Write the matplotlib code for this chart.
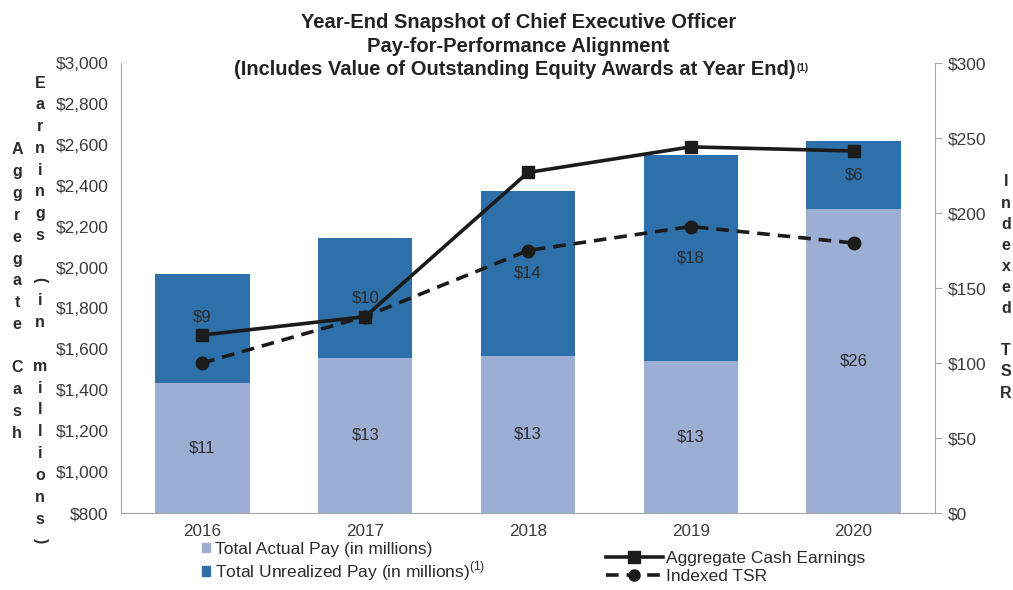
import matplotlib.pyplot as plt
import numpy as np
from matplotlib.lines import Line2D
from matplotlib.patches import Patch

plt.rcParams['font.family'] = ['Liberation Sans', 'DejaVu Sans']

years = ['2016', '2017', '2018', '2019', '2020']
# bar tops ($ millions scale of the chart)
actual_top = [1436, 1558, 1568, 1543, 2286]
total_top = [1968, 2144, 2374, 2550, 2619]
actual_lbl = ['$11', '$13', '$13', '$13', '$26']
unreal_lbl = ['$9', '$10', '$14', '$18', '$6']
cash_earn = [1670, 1760, 2465, 2590, 2570]   # left axis
tsr = [100, 131, 175, 191, 180]              # right axis

c_light = '#9caed3'
c_dark = '#2e70a9'
c_line = '#1b1b1b'
c_txt = '#3c3c3c'
c_spine = '#a6a6a6'
base = 800

fig = plt.figure(figsize=(10.13, 5.9), dpi=100)
ax = fig.add_axes([0.1194, 0.1305, 0.923 - 0.1194, 0.8932 - 0.1305])
ax2 = ax.twinx()
ax.set_zorder(ax2.get_zorder() + 1)
ax.patch.set_visible(False)

ax.set_xlim(-0.5, 4.5)
ax.set_ylim(800, 3000)
ax2.set_ylim(0, 300)

x = np.arange(len(years))
w = 0.58
a = np.array(actual_top) - base
u = np.array(total_top) - np.array(actual_top)
ax.bar(x, a, w, bottom=base, color=c_light, zorder=2)
ax.bar(x, u, w, bottom=actual_top, color=c_dark, zorder=2)
nudge = [8, 0, 0, 0, 0]  # points, keeps first label clear of the marker
for i in range(len(years)):
    ax.text(x[i], base + a[i] / 2, actual_lbl[i], ha='center', va='center', fontsize=12, color='#2b2b2b', zorder=3)
    ax.annotate(unreal_lbl[i], (x[i], actual_top[i] + u[i] / 2), xytext=(0, nudge[i]), textcoords='offset points',
                ha='center', va='center', fontsize=12, color='#2b2b2b', zorder=3)

ax.plot(x, cash_earn, '-', color=c_line, lw=2.6, marker='s', ms=9, zorder=5)
# TSR belongs to the right axis; drawn in ax so it sits above the bars
ax.plot(x, tsr, '--', color=c_line, lw=2.6, marker='o', ms=9, dashes=(3.5, 2.2), zorder=4,
        transform=ax2.transData)

ax.set_yticks(np.arange(800, 3001, 200))
ax.set_yticklabels(['${:,}'.format(v) for v in range(800, 3001, 200)])
ax2.set_yticks(np.arange(0, 301, 50))
ax2.set_yticklabels(['${}'.format(v) for v in range(0, 301, 50)])
ax.set_xticks(x)
ax.set_xticklabels(years)

for s in ['top']:
    ax.spines[s].set_visible(False)
    ax2.spines[s].set_visible(False)
for s in ['left', 'bottom', 'right']:
    ax.spines[s].set_color(c_spine)
    ax2.spines[s].set_color(c_spine)
ax.spines['right'].set_visible(False)
ax2.spines['left'].set_visible(False)
ax2.spines['bottom'].set_visible(False)
ax.tick_params(axis='y', length=0, labelsize=12.5, labelcolor=c_txt, pad=9)
ax.tick_params(axis='x', length=0, labelsize=12.3, labelcolor=c_txt, pad=8)
ax2.tick_params(axis='y', length=5, color=c_spine, labelsize=12.5, labelcolor=c_txt, pad=4)

fig.text(0.512, 0.962, 'Year-End Snapshot of Chief Executive Officer', ha='center', va='center',
         fontsize=14.5, fontweight='bold', color='#222222')
fig.text(0.512, 0.922, 'Pay-for-Performance Alignment', ha='center', va='center',
         fontsize=14.5, fontweight='bold', color='#222222')
t3 = fig.text(0.508, 0.882, '(Includes Value of Outstanding Equity Awards at Year End)',
              ha='center', va='center', fontsize=14.5, fontweight='bold', color='#222222')
fig.canvas.draw()
bb = t3.get_window_extent()
fig.text((bb.x1 + 1) / fig.bbox.width, (bb.y1 - 3) / fig.bbox.height, '(1)', ha='left', va='top',
         fontsize=7, fontweight='bold', color='#222222')

# stacked-letter axis titles
def stack(s, xpix, ypix0, step=21.8, fs=11.5):
    for k, ch in enumerate(s):
        if ch == ' ':
            continue
        rot = 0
        if ch == '(' or ch == ')':
            rot = -90
        fig.text(xpix / 1013, 1 - (ypix0 + k * step) / 590, ch, ha='center', va='center',
                 fontsize=fs, fontweight='bold', color='#2b2b2b', rotation=rot)

stack('Aggregate Cash', 17, 150)
stack('Earnings (in millions)', 40, 83)
stack('Indexed TSR', 1006, 182, step=21.1)

leg1 = fig.legend(handles=[Patch(color=c_light, label='Total Actual Pay (in millions)'),
                           Patch(color=c_dark, label='Total Unrealized Pay (in millions)$^{\\mathregular{(1)}}$')],
                  loc='upper left', bbox_to_anchor=(0.199, 0.082), frameon=False, fontsize=12.5,
                  handlelength=0.5, handleheight=0.5, handletextpad=0.25, labelspacing=0.15,
                  borderaxespad=0, borderpad=0, labelcolor='#2b2b2b')
leg2 = fig.legend(handles=[Line2D([], [], color=c_line, lw=2.6, marker='s', ms=8, label='Aggregate Cash Earnings'),
                           Line2D([], [], color=c_line, lw=2.6, ls='--', dashes=(3.5, 2.2), marker='o', ms=8,
                                  label='Indexed TSR')],
                  loc='upper left', bbox_to_anchor=(0.598, 0.066), frameon=False, fontsize=12.5,
                  handlelength=3.3, handletextpad=0.15, labelspacing=0.15, numpoints=1,
                  borderaxespad=0, borderpad=0, labelcolor='#2b2b2b')

fig.savefig('out.png', dpi=100)
